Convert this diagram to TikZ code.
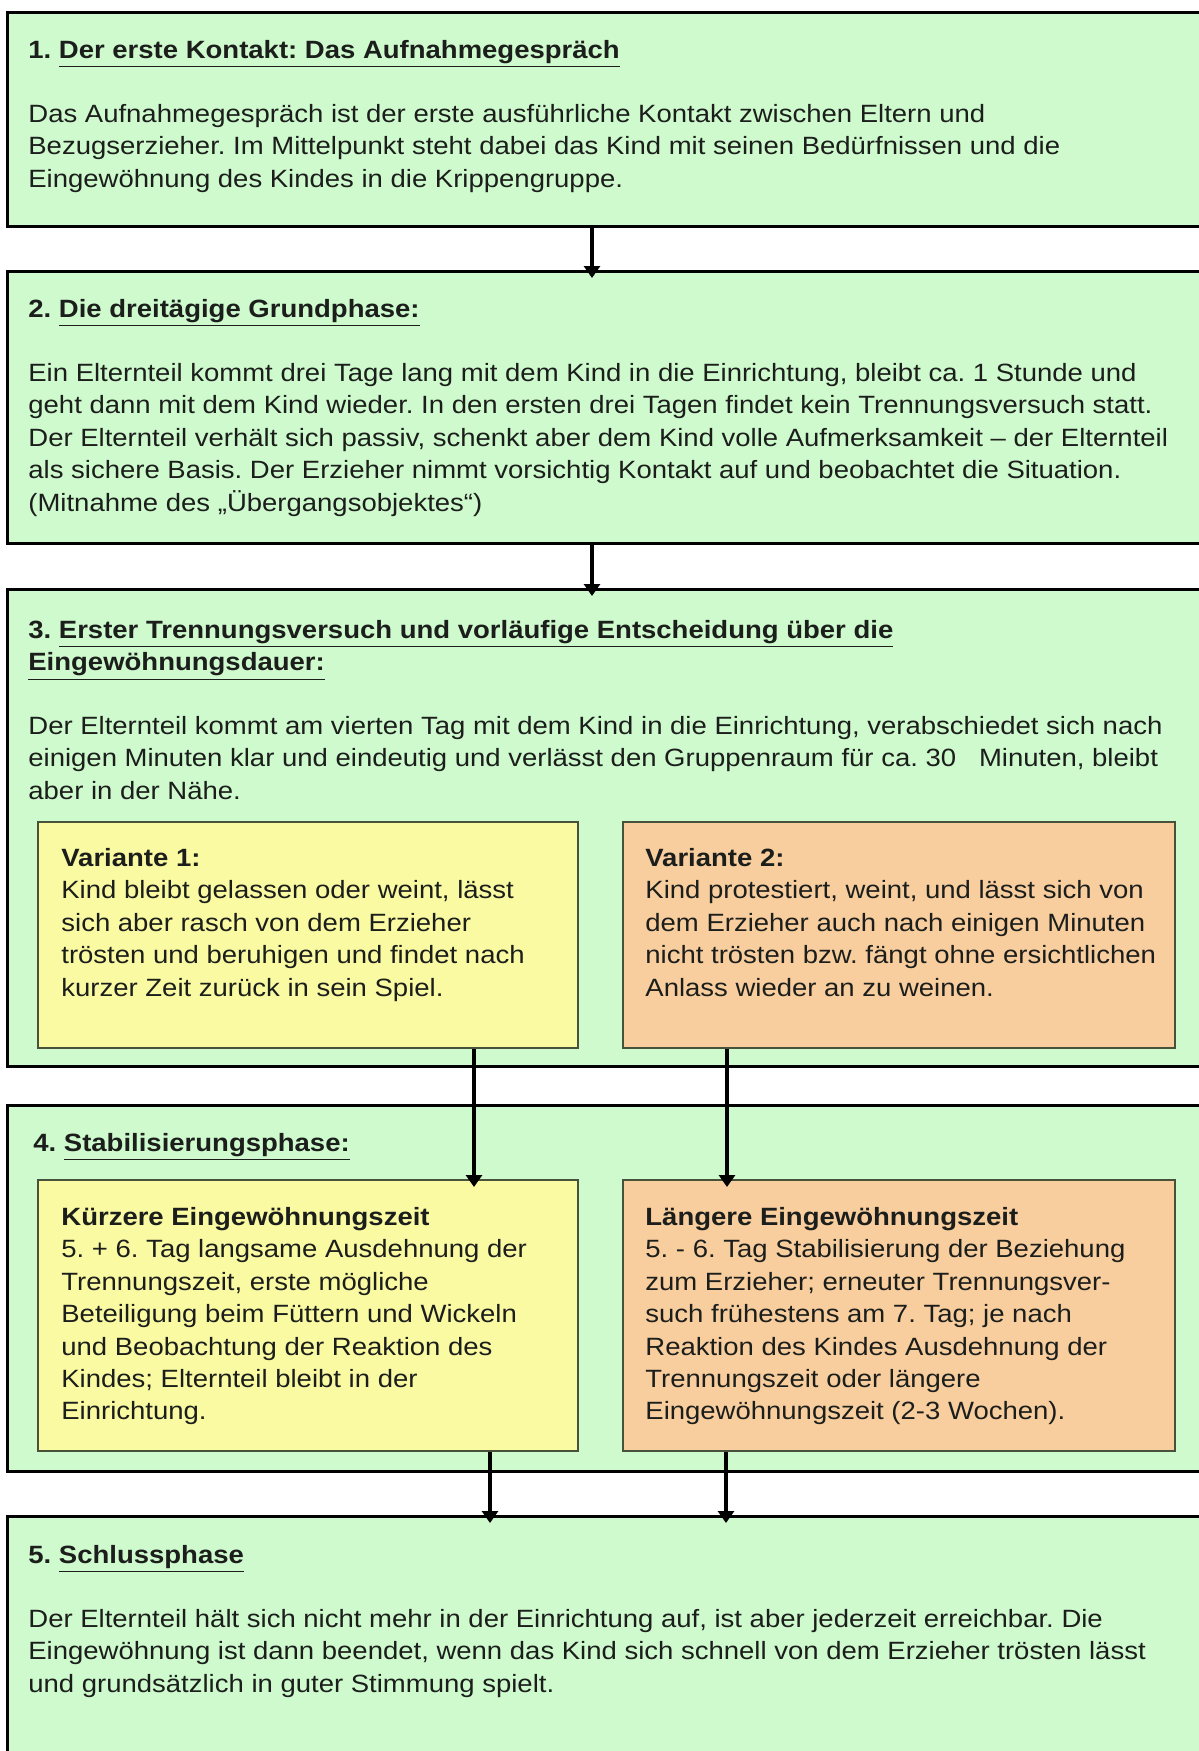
\documentclass[tikz,border=0pt]{standalone}
\usepackage{fontspec}
\setmainfont{Liberation Sans}[FakeStretch=1.1]
\usetikzlibrary{arrows.meta}
\frenchspacing
\definecolor{phasegreen}{RGB}{206,250,206}
\definecolor{varyellow}{RGB}{250,250,162}
\definecolor{varorange}{RGB}{248,206,158}
\definecolor{varline}{RGB}{72,82,58}
\definecolor{txt}{RGB}{28,30,28}

\begin{document}
\begin{tikzpicture}[x=0.5pt, y=-0.5pt,
    phase/.style={draw=black, line width=1.6pt, fill=phasegreen, anchor=north west,
        minimum width=607pt, inner sep=0},
    variant/.style={draw=varline, line width=1pt, anchor=north west,
        minimum width=270pt, inner sep=0},
    head/.style={anchor=north west, inner sep=0, align=left, text=txt,
        font=\fontsize{12.5}{16.2}\selectfont\bfseries},
    body/.style={anchor=north west, inner sep=0, align=left, text=txt,
        font=\fontsize{12.5}{16.2}\selectfont},
    flow/.style={line width=2pt, -{Triangle[width=8pt,length=6pt]}, shorten >=-4pt}]

    \useasboundingbox (0,0) rectangle (1199,1751);
    \clip (0,0) rectangle (1199,1751);
    \fill[white] (0,0) rectangle (1199,1751);

    % the five phases
    \node[phase, minimum height=107pt] (phase1) at (6,11) {};
    \node[phase, minimum height=136pt] (phase2) at (6,270) {};
    \node[phase, minimum height=238.5pt] (phase3) at (6,588) {};
    \node[phase, minimum height=183pt] (phase4) at (6,1104) {};
    \node[phase, minimum height=140pt] (phase5) at (6,1515) {};

    % inner boxes
    \node[variant, fill=varyellow, minimum height=113pt] (var1) at (37,821) {};
    \node[variant, fill=varorange, minimum height=113pt, minimum width=276pt] (var2) at (622,821) {};
    \node[variant, fill=varyellow, minimum height=135.5pt] (kurz) at (37,1179) {};
    \node[variant, fill=varorange, minimum height=135.5pt, minimum width=276pt] (lang) at (622,1179) {};

    \node[head] (t1) at (28,40) {1. \underline{Der erste Kontakt: Das Aufnahmegespräch}};
    \node[body] (b1) at (28,104) {Das Aufnahmegespräch ist der erste ausführliche Kontakt zwischen Eltern und\\
        Bezugserzieher. Im Mittelpunkt steht dabei das Kind mit seinen Bedürfnissen und die\\
        Eingewöhnung des Kindes in die Krippengruppe.};

    \node[head] (t2) at (28,299) {2. \underline{Die dreitägige Grundphase:}};
    \node[body] (b2) at (28,363) {Ein Elternteil kommt drei Tage lang mit dem Kind in die Einrichtung, bleibt ca. 1 Stunde und\\
        geht dann mit dem Kind wieder. In den ersten drei Tagen findet kein Trennungsversuch statt.\\
        Der Elternteil verhält sich passiv, schenkt aber dem Kind volle Aufmerksamkeit – der Elternteil\\
        als sichere Basis. Der Erzieher nimmt vorsichtig Kontakt auf und beobachtet die Situation.\\
        (Mitnahme des „Übergangsobjektes“)};

    \node[head] (t3) at (28,620) {3. \underline{Erster Trennungsversuch und vorläufige Entscheidung über die}\\
        \underline{Eingewöhnungsdauer:}};
    \node[body] (b3) at (28,716) {Der Elternteil kommt am vierten Tag mit dem Kind in die Einrichtung, verabschiedet sich nach\\
        einigen Minuten klar und eindeutig und verlässt den Gruppenraum für ca. 30\ \ \ Minuten, bleibt\\
        aber in der Nähe.};

    \node[body] (v1) at (61,848) {\textbf{Variante 1:}\\
        Kind bleibt gelassen oder weint, lässt\\
        sich aber rasch von dem Erzieher\\
        trösten und beruhigen und findet nach\\
        kurzer Zeit zurück in sein Spiel.};
    \node[body] (v2) at (645,848) {\textbf{Variante 2:}\\
        Kind protestiert, weint, und lässt sich von\\
        dem Erzieher auch nach einigen Minuten\\
        nicht trösten bzw. fängt ohne ersichtlichen\\
        Anlass wieder an zu weinen.};

    \node[head] (t4) at (33,1133) {4. \underline{Stabilisierungsphase:}};
    \node[body] (k1) at (61,1207) {\textbf{Kürzere Eingewöhnungszeit}\\
        5. + 6. Tag langsame Ausdehnung der\\
        Trennungszeit, erste mögliche\\
        Beteiligung beim Füttern und Wickeln\\
        und Beobachtung der Reaktion des\\
        Kindes; Elternteil bleibt in der\\
        Einrichtung.};
    \node[body] (l1) at (645,1207) {\textbf{Längere Eingewöhnungszeit}\\
        5. - 6. Tag Stabilisierung der Beziehung\\
        zum Erzieher; erneuter Trennungsver-\\
        such frühestens am 7. Tag; je nach\\
        Reaktion des Kindes Ausdehnung der\\
        Trennungszeit oder längere\\
        Eingewöhnungszeit (2-3 Wochen).};

    \node[head] (t5) at (28,1545) {5. \underline{Schlussphase}};
    \node[body] (b5) at (28,1609) {Der Elternteil hält sich nicht mehr in der Einrichtung auf, ist aber jederzeit erreichbar. Die\\
        Eingewöhnung ist dann beendet, wenn das Kind sich schnell von dem Erzieher trösten lässt\\
        und grundsätzlich in guter Stimmung spielt.};

    % arrows
    \coordinate (a1) at ([xshift=293pt]phase1.south west);
    \coordinate (a2) at ([xshift=293pt]phase2.south west);
    \coordinate (a3) at ([xshift=-52.5pt]var1.south east);
    \coordinate (a4) at ([xshift=52.5pt]var2.south west);
    \coordinate (a5) at ([xshift=-44.5pt]kurz.south east);
    \coordinate (a6) at ([xshift=52pt]lang.south west);
    \draw[flow] (a1) -- (a1 |- phase2.north);
    \draw[flow] (a2) -- (a2 |- phase3.north);
    \draw[flow] (a3) -- (a3 |- kurz.north);
    \draw[flow] (a4) -- (a4 |- lang.north);
    \draw[flow] (a5) -- (a5 |- phase5.north);
    \draw[flow] (a6) -- (a6 |- phase5.north);

\end{tikzpicture}
\end{document}
